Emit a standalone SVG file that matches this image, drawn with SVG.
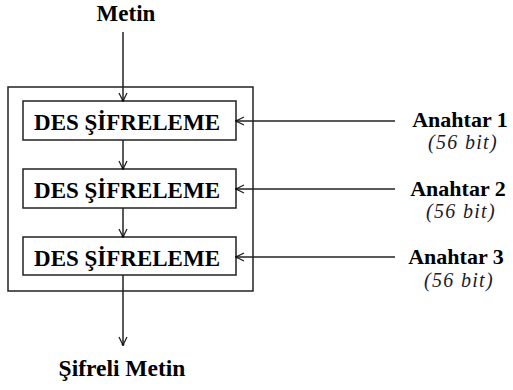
<svg xmlns="http://www.w3.org/2000/svg" width="513" height="390" viewBox="0 0 513 390">
<style>
.b{font-family:"Liberation Serif","DejaVu Serif",serif;font-weight:bold;font-size:23px;fill:#000;text-anchor:middle}
.k{font-size:22px}
.t{font-size:23.5px}
.i{font-family:"Liberation Serif","DejaVu Serif",serif;font-style:italic;font-size:20px;letter-spacing:1.3px;fill:#1a1a2a;text-anchor:middle}
.box{fill:#fff;stroke:#222;stroke-width:1.5}
.ln{stroke:#222;stroke-width:1.5;fill:none}
</style>
<defs>
<marker id="ah" viewBox="0 0 10 10" refX="9" refY="5" markerWidth="10" markerHeight="10" markerUnits="userSpaceOnUse" orient="auto">
<path d="M1,1 L9,5 L1,9" fill="none" stroke="#222" stroke-width="1.3"/>
<circle cx="8.5" cy="5" r="1.3" fill="#111"/>
</marker>
</defs>
<rect id="outer" x="8" y="87" width="245" height="204" fill="none" stroke="#222" stroke-width="1.5"/>
<g id="metin"><text class="b" x="126" y="21">Metin</text></g>
<g id="des1"><rect class="box" x="23" y="101" width="213" height="39"/><text class="b" x="127" y="130">DES ŞİFRELEME</text></g>
<g id="des2"><rect class="box" x="23" y="169" width="213" height="39"/><text class="b" x="127" y="198">DES ŞİFRELEME</text></g>
<g id="des3"><rect class="box" x="23" y="237" width="213" height="38"/><text class="b" x="127" y="266">DES ŞİFRELEME</text></g>
<g id="key1"><text class="b k" x="460" y="127">Anahtar 1</text><text class="i" x="463" y="149">(56 bit)</text></g>
<g id="key2"><text class="b k" x="458" y="196">Anahtar 2</text><text class="i" x="461" y="218">(56 bit)</text></g>
<g id="key3"><text class="b k" x="456" y="264">Anahtar 3</text><text class="i" x="459" y="287">(56 bit)</text></g>
<g id="sifreli"><text class="b t" x="122" y="376">Şifreli Metin</text></g>
<g id="connectors">
<line class="ln" x1="123" y1="32" x2="123" y2="101" marker-end="url(#ah)"/>
<line class="ln" x1="123" y1="140" x2="123" y2="169" marker-end="url(#ah)"/>
<line class="ln" x1="123" y1="208" x2="123" y2="237" marker-end="url(#ah)"/>
<line class="ln" x1="123" y1="275" x2="123" y2="345" marker-end="url(#ah)"/>
<line class="ln" x1="395" y1="121" x2="236" y2="121" marker-end="url(#ah)"/>
<line class="ln" x1="395" y1="189" x2="236" y2="189" marker-end="url(#ah)"/>
<line class="ln" x1="395" y1="257" x2="236" y2="257" marker-end="url(#ah)"/>
</g>
</svg>
